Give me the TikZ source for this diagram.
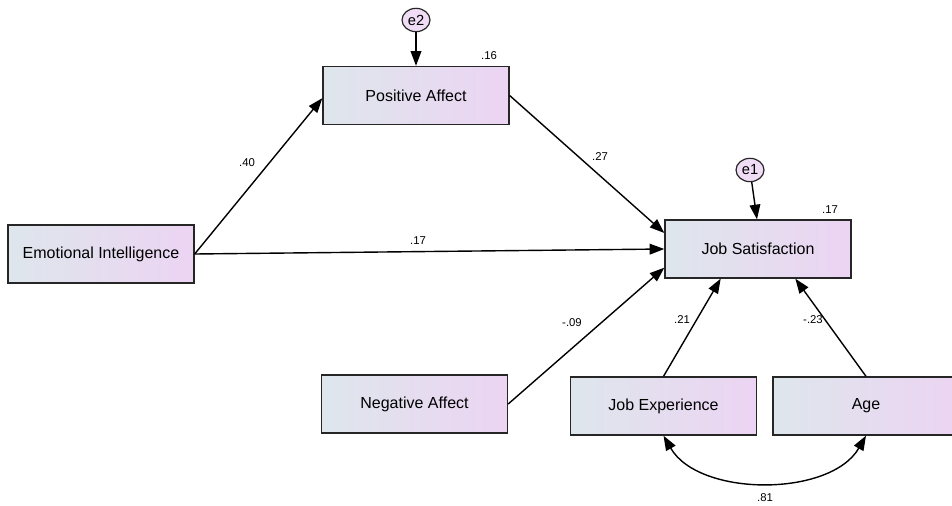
\documentclass[tikz,border=0pt]{standalone}
\usepackage{fontspec}
\setmainfont{Liberation Sans}
\usepackage{tikz}
\usetikzlibrary{positioning,shapes.geometric,arrows.meta}
\usepackage{xcolor}
\definecolor{boxL}{RGB}{222,230,236}
\definecolor{boxR}{RGB}{236,212,243}

\begin{document}
\begin{tikzpicture}[
    x=0.75pt, y=-0.75pt,
    var/.style={draw=black!85, line width=1pt, left color=boxL, right color=boxR,
      minimum width=139.5pt, minimum height=43.5pt, inner sep=0pt,
      font=\fontsize{12}{14}\selectfont},
    err/.style={ellipse, draw=black!85, line width=0.9pt, fill=boxR!80!white,
      minimum width=21pt, minimum height=17.5pt, inner sep=0pt,
      font=\fontsize{11}{12}\selectfont},
    path/.style={-{Triangle[length=11pt, width=8pt]}, line width=1.05pt, black},
    cov/.style={{Triangle[length=11pt, width=8pt]}-{Triangle[length=11pt, width=8pt]}, line width=1.05pt, black},
    coef/.style={font=\fontsize{8.5}{10}\selectfont, inner sep=1pt},
]
\useasboundingbox (0,0) rectangle (952,506);
% observed variables
\node[var] (ei) at (101,254) {Emotional Intelligence};
\node[var] (pa) at (416,95.5) {Positive Affect};
\node[var] (na) at (414.5,404) {Negative Affect};
\node[var] (js) at (758,249) {Job Satisfaction};
\node[var] (je) at (663.5,406) {Job Experience};
\node[var] (age) at (866,406) {Age};
% error terms
\node[err] (e2) at (416,20) {e2};
\node[err] (e1) at (750,170) {e1};
% paths
\draw[path] (e2) -- (pa.north);
\draw[path] (e1) -- ([xshift=-0.75pt]js.north);
\draw[path] (ei.east) -- ([yshift=-2pt]pa.west);
\draw[path] (ei.east) -- (js.west);
\draw[path] (pa.east) -- ([yshift=12pt]js.west);
\draw[path] (na.east) -- ([yshift=-14pt]js.west);
\draw[path] (je.north) -- ([xshift=-28pt]js.south);
\draw[path] (age.north) -- ([xshift=28pt]js.south);
\draw[cov] (je.south) to[out=-60, in=-120, looseness=0.9] (age.south);
% estimates
\node[coef] at (247,163) {.40};
\node[coef] at (418,241) {.17};
\node[coef] at (600,157) {.27};
\node[coef] at (572,323) {-.09};
\node[coef] at (682,320) {.21};
\node[coef] at (813,320) {-.23};
\node[coef] at (765,498) {.81};
\node[coef] at (489,56) {.16};
\node[coef] at (830,210) {.17};
\end{tikzpicture}
\end{document}
